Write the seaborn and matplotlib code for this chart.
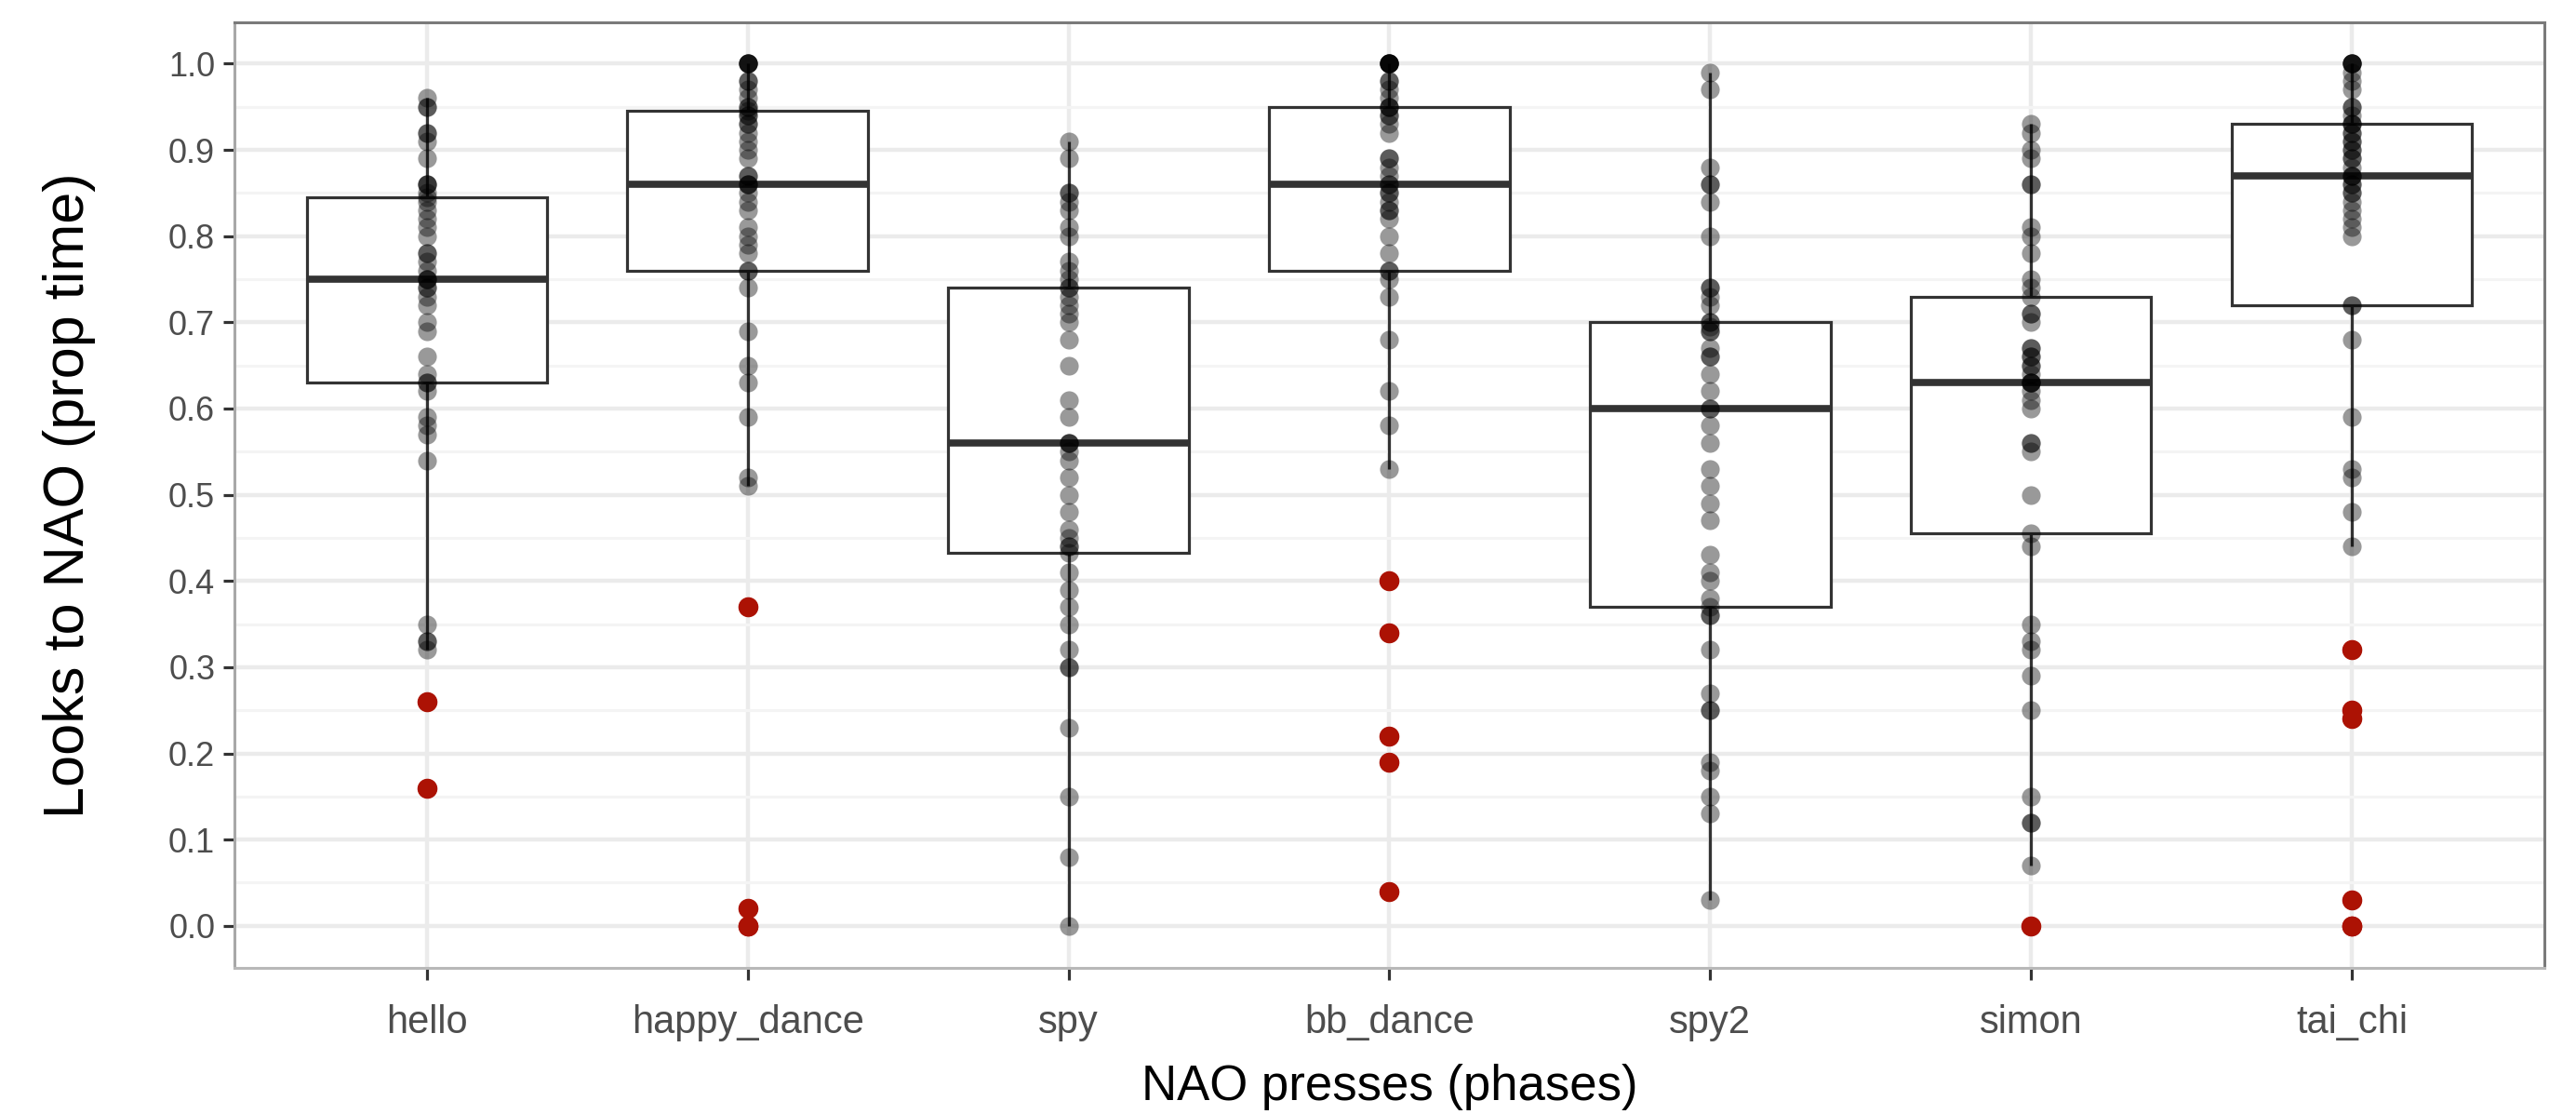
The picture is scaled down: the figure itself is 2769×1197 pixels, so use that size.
import pandas as pd
import seaborn as sns
import matplotlib.pyplot as plt
from matplotlib.ticker import MultipleLocator, FormatStrFormatter

# phases (x categories) in plot order
phases = ["hello", "happy_dance", "spy", "bb_dance", "spy2", "simon", "tai_chi"]

# proportion of time looking at NAO, per child
hello = [0.16, 0.26, 0.32, 0.33, 0.33, 0.35, 0.54, 0.57, 0.58, 0.59, 0.62,
         0.63,
         0.63, 0.64, 0.66, 0.69, 0.70, 0.72, 0.73, 0.74, 0.74, 0.75,
         0.75,
         0.75, 0.76, 0.77, 0.78, 0.78, 0.80, 0.81, 0.82, 0.83, 0.84,
         0.845,
         0.85, 0.86, 0.86, 0.86, 0.89, 0.91, 0.92, 0.92, 0.95, 0.95, 0.96]
happy_dance = [0.00, 0.00, 0.02, 0.37, 0.51, 0.52, 0.59, 0.63, 0.65, 0.69, 0.74,
               0.76,
               0.76, 0.78, 0.79, 0.80, 0.81, 0.83, 0.84, 0.85, 0.86, 0.86,
               0.86,
               0.87, 0.87, 0.89, 0.90, 0.91, 0.92, 0.93, 0.93, 0.94, 0.94,
               0.945,
               0.95, 0.95, 0.96, 0.97, 0.98, 0.98, 1.00, 1.00, 1.00, 1.00, 1.00]
spy = [0.00, 0.08, 0.15, 0.23, 0.30, 0.30, 0.32, 0.35, 0.37, 0.39, 0.41,
       0.433,
       0.44, 0.44, 0.45, 0.46, 0.48, 0.50, 0.52, 0.54, 0.55, 0.56,
       0.56,
       0.56, 0.59, 0.61, 0.65, 0.68, 0.70, 0.71, 0.72, 0.73, 0.74,
       0.74,
       0.75, 0.76, 0.77, 0.80, 0.81, 0.83, 0.84, 0.85, 0.85, 0.89, 0.91]
bb_dance = [0.04, 0.19, 0.22, 0.34, 0.40, 0.53, 0.58, 0.62, 0.68, 0.73, 0.75,
            0.76,
            0.76, 0.78, 0.80, 0.82, 0.83, 0.83, 0.84, 0.85, 0.85, 0.86,
            0.86,
            0.87, 0.88, 0.89, 0.89, 0.92, 0.93, 0.94, 0.94, 0.95, 0.95,
            0.95,
            0.96, 0.97, 0.98, 0.98, 1.00, 1.00, 1.00, 1.00, 1.00, 1.00, 1.00]
spy2 = [0.03, 0.13, 0.15, 0.18, 0.19, 0.25, 0.25, 0.27, 0.32, 0.36, 0.36,
        0.37,
        0.38, 0.40, 0.41, 0.43, 0.47, 0.49, 0.51, 0.53, 0.56, 0.58,
        0.60,
        0.60, 0.62, 0.64, 0.66, 0.66, 0.67, 0.69, 0.69, 0.70, 0.70,
        0.695,
        0.72, 0.73, 0.74, 0.74, 0.80, 0.84, 0.86, 0.86, 0.88, 0.97, 0.99]
simon = [0.00, 0.07, 0.12, 0.12, 0.15, 0.25, 0.29, 0.32, 0.33, 0.35, 0.44,
         0.455,
         0.50, 0.55, 0.56, 0.56, 0.60, 0.61, 0.62, 0.63, 0.63, 0.63,
         0.63,
         0.64, 0.65, 0.65, 0.66, 0.66, 0.67, 0.67, 0.70, 0.71, 0.71,
         0.73,
         0.74, 0.75, 0.78, 0.80, 0.81, 0.86, 0.86, 0.89, 0.90, 0.92, 0.93]
tai_chi = [0.00, 0.00, 0.03, 0.24, 0.25, 0.32, 0.44, 0.48, 0.52, 0.53, 0.59, 0.68,
           0.72,
           0.72, 0.80, 0.81, 0.82, 0.83, 0.84, 0.85, 0.85, 0.86, 0.86, 0.87,
           0.87,
           0.87, 0.88, 0.89, 0.89, 0.90, 0.90, 0.91, 0.91, 0.92, 0.92, 0.93,
           0.93,
           0.93, 0.94, 0.95, 0.95, 0.97, 0.98, 0.99, 1.00, 1.00, 1.00, 1.00, 1.00]

y_ticks = [0.0, 0.1, 0.2, 0.3, 0.4, 0.5, 0.6, 0.7, 0.8, 0.9, 1.0]

# long format table for seaborn
groups = [hello, happy_dance, spy, bb_dance, spy2, simon, tai_chi]
rows = []
for name, vals in zip(phases, groups):
    for v in vals:
        rows.append({"phase": name, "looks": v})
df = pd.DataFrame(rows)

sns.set_theme(style="whitegrid")
plt.rcParams['font.family'] = ['Liberation Sans', 'DejaVu Sans']

fig, ax = plt.subplots(figsize=(27.69, 11.97), dpi=100)
fig.subplots_adjust(left=0.091, right=0.9877, bottom=0.131, top=0.98)

red = "#AC1204"

# boxes, red outliers on top of everything
sns.boxplot(data=df, x="phase", y="looks", order=phases, ax=ax,
            width=0.75, color="white", linecolor="#333333", linewidth=2.3,
            showcaps=False,
            medianprops={"linewidth": 5.5, "color": "#333333"},
            flierprops={"marker": "o", "markerfacecolor": red,
                        "markeredgecolor": red, "markersize": 14.5,
                        "zorder": 5})

# every child as a translucent black point
sns.stripplot(data=df, x="phase", y="looks", order=phases, ax=ax,
              jitter=False, color="black", alpha=0.4, size=14.5,
              linewidth=0, zorder=3)

ax.set_xlim(-0.6, 6.6)
ax.set_ylim(-0.049, 1.048)
ax.set_yticks(y_ticks)
ax.yaxis.set_major_formatter(FormatStrFormatter("%.1f"))
ax.yaxis.set_minor_locator(MultipleLocator(0.05))

ax.set_axisbelow(True)
ax.grid(which="major", color="#EBEBEB", linewidth=3.2)
ax.grid(which="minor", axis="y", color="#F4F4F4", linewidth=2.2)

for side in ["left", "right", "top", "bottom"]:
    ax.spines[side].set_visible(True)
    ax.spines[side].set_linewidth(2.2)
ax.spines["top"].set_color("#7A7A7A")
ax.spines["right"].set_color("#7A7A7A")
ax.spines["left"].set_color("#A8A8A8")
ax.spines["bottom"].set_color("#B8B8B8")

ax.tick_params(axis="both", which="major", length=9, width=2.3,
               color="#333333", labelcolor="#4D4D4D",
               bottom=True, left=True)
ax.tick_params(axis="x", pad=19, labelsize=30)
ax.tick_params(axis="y", pad=6, labelsize=26)
ax.tick_params(axis="y", which="minor", length=0)

ax.set_xlabel("NAO presses (phases)", fontsize=38, color="black", labelpad=17)
ax.set_ylabel("Looks to NAO (prop time)", fontsize=44, color="black", labelpad=56)

fig.savefig("out.png", dpi=100)
